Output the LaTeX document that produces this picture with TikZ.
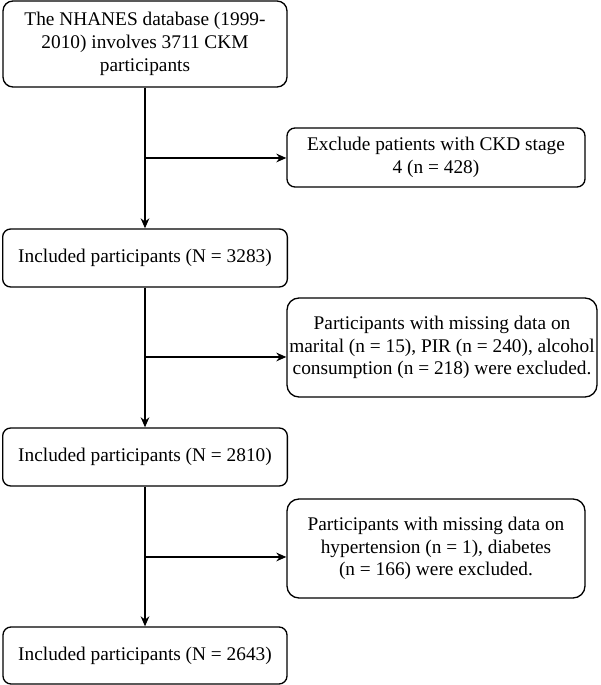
\documentclass[tikz,border=0pt]{standalone}
\usepackage{fontspec}
\setmainfont{Liberation Serif}
\usetikzlibrary{arrows.meta}
\begin{document}
\begin{tikzpicture}[x=0.75pt,y=0.75pt,
  box/.style={draw, line width=1pt, rounded corners=6pt, align=center, inner sep=0pt,
    font=\fontsize{14.5}{17}\selectfont},
  arr/.style={line width=1pt, -{Stealth[length=7.5pt,width=6.5pt]}}]
\useasboundingbox (0,0) rectangle (600,685);
\node[box, rounded corners=7.5pt, minimum width=213pt, minimum height=64.5pt] (a) at (145,641)
  {The NHANES database (1999-\\2010) involves 3711 CKM\\participants};
\node[box, minimum width=223.5pt, minimum height=44.25pt] (r1) at (436,527.5)
  {Exclude patients with CKD stage\\4 (n = 428)};
\node[box, minimum width=213.5pt, minimum height=43.5pt] (b) at (145,427)
  {Included participants (N = 3283)};
\node[box, rounded corners=9pt, minimum width=232.5pt, minimum height=74.25pt] (r2) at (442,337.5)
  {Participants with missing data on\\marital (n = 15), PIR (n = 240), alcohol\\consumption (n = 218) were excluded.};
\node[box, minimum width=213.5pt, minimum height=43.5pt] (c) at (145,228)
  {Included participants (N = 2810)};
\node[box, rounded corners=9pt, minimum width=223.5pt, minimum height=74.25pt] (r3) at (436,136.5)
  {Participants with missing data on\\hypertension (n = 1), diabetes\\(n = 166) were excluded.};
\node[box, minimum width=213pt, minimum height=42.75pt] (d) at (145,29.5)
  {Included participants (N = 2643)};
\coordinate (j1) at (145,527);
\coordinate (j2) at (145,328);
\coordinate (j3) at (145,128);
\draw[arr] (a) -- (b);
\draw[arr] (b) -- (c);
\draw[arr] (c) -- (d);
\draw[arr] (j1) -- (j1 -| r1.west);
\draw[arr] (j2) -- (j2 -| r2.west);
\draw[arr] (j3) -- (j3 -| r3.west);
\end{tikzpicture}
\end{document}
